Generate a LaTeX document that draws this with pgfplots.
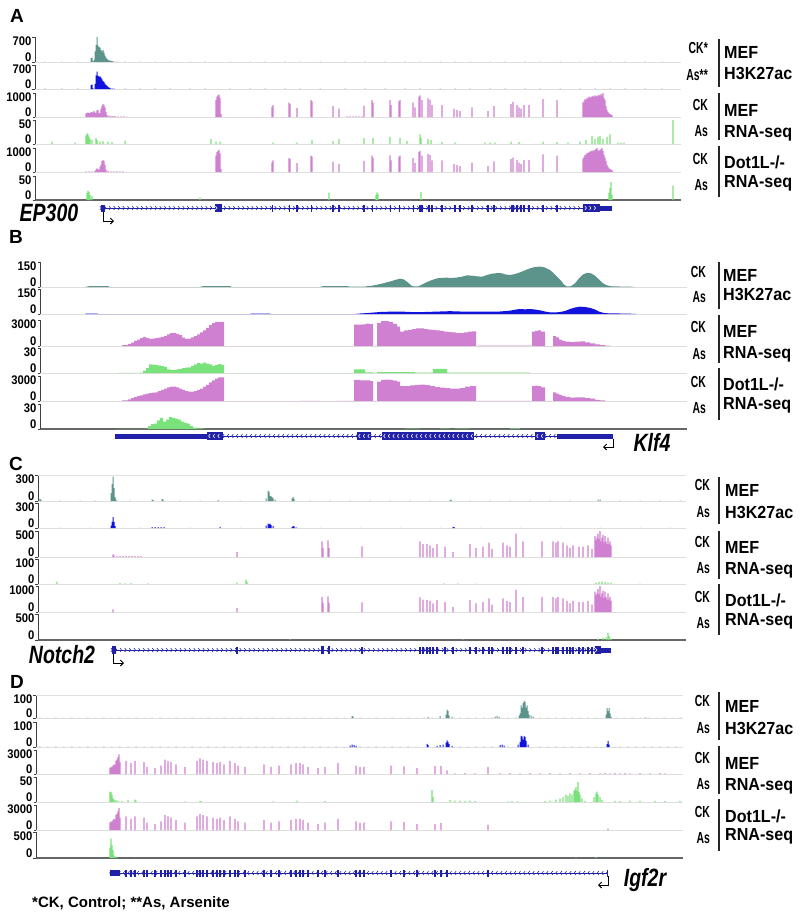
\documentclass[border=0pt]{standalone}
\usepackage{pgfplots}
\pgfplotsset{compat=1.18}
\usepackage{fontspec}
\setmainfont{Liberation Sans}
\newfontfamily\nar{Liberation Sans}[FakeStretch=0.65]
\newfontfamily\labf{Liberation Sans}[FakeStretch=0.92]
\newfontfamily\tickf{Liberation Sans}[FakeStretch=0.9]
\newfontfamily\genef{Liberation Sans}[FakeStretch=0.78]
\usetikzlibrary{decorations.markings, arrows.meta}

\definecolor{tealc}{RGB}{92,148,140}
\definecolor{bluec}{RGB}{18,18,222}
\definecolor{pinkc}{RGB}{208,128,208}
\definecolor{greenc}{RGB}{122,226,122}
\definecolor{genec}{RGB}{32,32,168}

\tikzset{
 tlab/.style={inner sep=0pt, xshift=-3.5pt, font=\tickf\bfseries\fontsize{12.5}{12.5}\selectfont},
 chevR/.style={postaction={decorate, decoration={markings, mark=between positions 0 and 1 step 4.6pt with {\draw[#1, line width=0.55pt] (-1.1pt,1.9pt) -- (0.4pt,0pt) -- (-1.1pt,-1.9pt);}}}},
 chevL/.style={postaction={decorate, decoration={markings, mark=between positions 0 and 1 step 4.6pt with {\draw[#1, line width=0.55pt] (1.1pt,1.9pt) -- (-0.4pt,0pt) -- (1.1pt,-1.9pt);}}}},
 barrow/.style={black, line width=0.9pt, -{Straight Barb[length=3pt, width=6pt]}},
}

\pgfplotsset{
 trkbase/.style={scale only axis, anchor=north west, axis lines*=left,
   axis line style={-},
   x axis line style={-, draw=black!13, line width=0.7pt},
   y axis line style={-, draw=black!75, line width=0.6pt},
   xtick=\empty, ymin=0, tick align=outside, major tick length=2.5pt,
   ytick style={draw=black!75, line width=0.6pt}, yticklabels={}},
 trk/.style n args={5}{trkbase, at={(#1pt,-#2pt)}, height=#3pt, ymax=#4, ytick={0,#4},
   extra description/.code={
     \node[tlab, anchor=north east] at (rel axis cs:0,1) {#5};
     \node[tlab, anchor=south east] at (rel axis cs:0,0) {0};}},
 lastt/.style={x axis line style={-, draw=black!60, line width=1.1pt}},
 pA/.style={xmin=35, xmax=681, width=646pt},
 pB/.style={xmin=40, xmax=687, width=647pt},
 pC/.style={xmin=38, xmax=686, width=648pt},
 pD/.style={xmin=36, xmax=683, width=647pt},
 gene/.style n args={2}{scale only axis, anchor=west, at={(#1pt,-#2pt)}, height=16pt, ymin=-8, ymax=8, hide axis, clip=false},
 bT/.style={ybar, bar width=1, fill=tealc, draw=none},
 bTn/.style={ybar, bar width=1, fill=tealc!55, draw=none},
 bB/.style={ybar, bar width=1, fill=bluec, draw=none},
 bBn/.style={ybar, bar width=1, fill=bluec!40, draw=none},
 bP/.style={ybar, bar width=1.2, fill=pinkc, draw=none},
 bG/.style={ybar, bar width=1.2, fill=greenc, draw=none},
}

\newcommand{\ex}[3]{\fill[genec] (axis cs:#1,-#3) rectangle (axis cs:#2,#3);}
\newcommand{\te}[1]{\fill[genec] ([xshift=-0.7pt]axis cs:#1,-3.5) rectangle ([xshift=0.7pt]axis cs:#1,3.5);}
\newcommand{\vl}[2]{\draw[line width=1.4pt, black!85] (719,#1) -- (719,#2);}
\newcommand{\ck}[3]{\node[anchor=base east, inner sep=0pt, font=\nar\bfseries\fontsize{16}{16}\selectfont] at (#1,#2+5.8) {#3};}
\newcommand{\tx}[3]{\node[anchor=base west, inner sep=0pt, font=\labf\bfseries\fontsize{17.5}{17.5}\selectfont] at (#1,#2+6.3) {#3};}

\begin{document}
\begin{tikzpicture}
\useasboundingbox (0pt,0pt) rectangle (800pt,-914pt);

%================ PANEL A =================
\begin{axis}[pA, trk={35}{37}{25}{700}{700}]
\addplot[bTn] coordinates {(45,20)(62,18)(78,20)(125,20)(140,18)(155,20)(170,20)(190,18)(205,20)(230,20)(250,18)(265,20)(285,20)(300,18)(320,20)(345,20)(365,18)(385,20)(405,20)(420,18)(440,20)(455,18)(470,20)(490,18)(505,20)(525,18)(540,20)(560,18)(580,20)(595,18)(610,20)(625,18)(645,18)(662,18)};
\addplot[bT] coordinates {(91,110)(92,120)(93,20)(94,60)(95,300)(96,480)(97,700)(98,460)(99,420)(100,400)(101,330)(102,300)(103,340)(104,260)(105,180)(106,120)(107,90)(108,60)(109,45)(110,40)(111,30)(112,25)(113,20)(115,10)(117,8)};
\end{axis}

\begin{axis}[pA, trk={35}{65}{24}{700}{700}]
\addplot[bBn] coordinates {(45,16)(62,16)(78,16)(125,16)(140,16)(155,16)(170,16)(190,16)(205,16)(230,16)(250,16)(265,16)(285,16)(300,16)(320,16)(345,16)(365,16)(385,16)(405,16)(420,16)(440,16)(455,16)(470,16)(490,16)(505,16)(525,16)(540,16)(560,16)(580,16)(595,16)(610,16)(625,16)(645,16)(662,16)};
\addplot[bB] coordinates {(91,110)(92,125)(93,20)(95,150)(96,400)(97,510)(98,380)(99,360)(100,370)(101,330)(102,280)(103,230)(104,200)(105,150)(106,110)(107,90)(108,60)(109,40)(110,30)(112,20)(114,10)};
\end{axis}

\begin{axis}[pA, trk={35}{93}{24}{1000}{1000}]
\addplot[bP] coordinates {(86,150)(87,170)(88,180)(89,160)(90,170)(91,190)(92,200)(93,180)(94,250)(95,180)(96,170)(97,280)(98,300)(99,150)(100,160)(101,350)(102,450)(103,550)(104,500)(105,400)(106,200)(107,80)(109,60)(111,50)(113,40)(115,40)(118,30)(121,30)(124,30)(127,20)
(216,700)(217,850)(218,900)(219,930)(220,800)(221,120)
(272,420)(273,500)(289,600)(290,550)(297,380)(311,700)(312,650)(333,450)(339,350)
(347,30)(350,30)(353,30)(356,30)(359,30)(362,30)
(364,470)(372,700)(373,600)(390,700)(391,500)(399,650)(400,700)
(413,600)(415,400)(419,850)(420,900)(422,700)(428,780)(430,720)(432,500)(442,500)(454,350)(457,300)(460,250)(472,400)(488,250)(494,450)(511,550)(513,620)(517,500)(519,400)(521,350)(524,500)(529,500)(543,750)(557,700)
(583,600)(584,650)(585,750)(586,700)(587,800)(588,780)(589,850)(590,820)(591,820)(592,860)(593,880)(594,830)(595,900)(596,870)(597,850)(598,900)(599,920)(600,880)(601,950)(602,900)(603,1000)(604,800)(605,700)(606,450)(607,300)(608,200)(609,150)(610,120)(611,100)(612,80)};
\end{axis}

\begin{axis}[pA, trk={35}{120}{24}{50}{50}]
\addplot[bG] coordinates {(52,5)(75,3)(86,18)(87,22)(88,20)(89,15)(90,10)(92,8)(96,12)(97,8)(100,5)(103,6)(108,5)(112,4)(125,7)(211,10)(216,5)(220,5)(273,3)(297,3)(312,8)(333,6)(339,10)(364,12)(373,12)(390,15)(400,12)(407,6)(420,20)(421,12)(428,10)(431,8)(442,4)(455,3)(485,3)(490,3)(495,3)(511,5)(519,4)(543,5)(557,4)(568,3)(580,5)(586,8)(592,17)(595,10)(598,15)(600,17)(603,10)(607,15)(610,20)(618,3)(621,3)(624,3)(673,50)};
\end{axis}

\begin{axis}[pA, trk={35}{148}{24}{1000}{1000}]
\addplot[bP] coordinates {(86,30)(89,30)(92,30)(95,40)(96,100)(97,150)(98,120)(99,80)(100,200)(101,300)(102,450)(103,500)(104,450)(105,300)(106,100)(108,40)(111,30)(114,30)(117,30)(120,30)(123,25)
(216,680)(217,830)(218,880)(219,920)(220,780)(221,120)
(272,400)(273,480)(289,580)(290,540)(297,370)(311,680)(312,640)(333,430)(339,340)(364,460)(372,680)(373,580)(390,690)(391,480)(399,640)(400,680)
(413,580)(415,380)(419,830)(420,880)(422,680)(428,760)(430,700)(432,480)(442,480)(454,340)(457,300)(460,240)(472,390)(488,240)(494,440)(511,540)(513,600)(517,490)(519,390)(521,340)(524,490)(529,490)(543,730)(557,680)
(583,550)(584,620)(585,700)(586,720)(587,780)(588,800)(589,820)(590,850)(591,880)(592,860)(593,900)(594,880)(595,920)(596,950)(597,1000)(598,900)(599,880)(600,920)(601,940)(602,1000)(603,880)(604,700)(605,600)(606,450)(607,300)(608,220)(609,150)(610,120)(611,100)(612,80)};
\end{axis}

\begin{axis}[pA, trk={35}{176}{24}{50}{50}, lastt]
\addplot[bG] coordinates {(87,15)(88,19)(89,17)(90,10)(92,8)(200,5)(329,15)(376,10)(377,16)(378,12)(421,17)(609,15)(610,25)(611,38)(612,10)(673,30)};
\end{axis}

\begin{axis}[pA, gene={35}{208}]
\draw[genec, line width=0.9pt, chevR=genec] (axis cs:101,0) -- (axis cs:612,0);
\ex{101}{105}{3.5}\ex{214.5}{221.5}{3.8}
\te{272.5}\te{289.5}\te{297}\te{311.5}\te{333}\te{339}\te{364}\te{372.5}\te{390.5}\te{399.5}\te{413.5}
\ex{419}{422.5}{3.5}\ex{428}{430}{3.5}\ex{431}{433}{3.5}
\te{442}\te{455}\te{460}\te{472}\te{488}\te{494}\ex{511}{513.5}{3.5}\te{517}\te{521}\te{524}\te{529}\te{543}\te{557}
\ex{583}{600}{4}\ex{600}{612}{2.5}
\path[chevR=white] (axis cs:216.5,0) -- (axis cs:220,0);
\path[chevR=white] (axis cs:586,0) -- (axis cs:599,0);
\draw[barrow] (axis cs:103,-4) -- (axis cs:103,-13) -- (axis cs:114,-13);
\end{axis}

%================ PANEL B =================
\begin{axis}[pB, trk={40}{262}{25}{150}{150}]
\addplot[fill=tealc, draw=none] coordinates {(85,0)(90,6)(108,6)(110,0)(200,0)(203,6)(230,6)(232,0)(320,0)(323,6)(347,6)(350,2)(357,2)(365,3)(372,8)(378,15)(383,22)(390,33)(395,42)(400,50)(404,45)(408,27)(412,5)(418,3)(422,15)(427,30)(432,42)(437,52)(442,55)(447,56)(452,54)(457,57)(462,62)(467,70)(472,68)(477,64)(482,62)(487,72)(492,80)(497,83)(501,84)(505,76)(510,72)(515,78)(520,88)(525,100)(530,112)(535,120)(540,123)(545,117)(550,102)(555,75)(560,45)(564,15)(567,3)(571,5)(575,22)(579,52)(583,75)(587,85)(591,82)(595,68)(599,45)(603,22)(607,10)(612,4)(620,3)(630,2)(635,0)} \closedcycle;
\end{axis}

\begin{axis}[pB, trk={40}{289}{25}{150}{150}]
\addplot[fill=bluec, draw=none] coordinates {(85,0)(86,3)(97,3)(98,0)(250,0)(251,2)(270,2)(271,0)(355,0)(360,3)(370,7)(380,12)(390,14)(400,15)(410,12)(420,11)(430,13)(440,15)(450,17)(460,15)(470,14)(480,14)(490,15)(500,15)(510,20)(515,26)(520,30)(525,28)(530,30)(535,27)(540,22)(545,15)(550,10)(555,9)(560,12)(565,18)(570,30)(575,39)(580,44)(585,42)(590,37)(595,27)(600,12)(605,5)(610,4)(620,3)(635,1)(636,0)} \closedcycle;
\end{axis}

\begin{axis}[pB, trk={40}{320}{26}{3000}{3000}]
\addplot[fill=pinkc, draw=none, const plot] coordinates {(122,90)(125,90)(128,240)(131,390)(134,600)(137,750)(140,900)(143,1050)(146,900)(149,810)(152,840)(155,900)(158,960)(161,1050)(164,1140)(167,1350)(170,1500)(173,1500)(176,1410)(179,1260)(182,960)(185,810)(188,840)(191,990)(194,1140)(197,1350)(200,1560)(203,1800)(206,2100)(209,2400)(212,2640)(215,2790)(218,2790)(221,2790)(224,0)
(354,2460)(358,2460)(362,2490)(366,2580)(369,2520)(373,0)
(377,2640)(381,2880)(385,2880)(389,2760)(393,2550)(397,2250)(400,1650)(404,1800)(408,1860)(412,1950)(416,2040)(420,2040)(424,1950)(428,1890)(432,1860)(436,1800)(440,1740)(444,1650)(448,1590)(452,1560)(456,1500)(460,1500)(464,1560)(468,1650)(472,1680)(476,0)
(478,30)(531,0)
(532,1650)(535,1740)(538,1800)(541,1650)(545,0)
(553,1140)(556,990)(559,750)(562,600)(565,510)(570,450)(575,510)(580,540)(585,420)(590,300)(595,180)(600,90)(605,30)(610,0)} \closedcycle;
\end{axis}

\begin{axis}[pB, trk={40}{348}{25}{30}{30}]
\addplot[fill=greenc, draw=none, const plot] coordinates {(118,0.3)(140,0.6)(143,3)(146,6)(149,10.5)(152,10)(155,9.6)(158,9)(161,8.4)(164,7.5)(167,4.5)(170,3.9)(173,3.9)(176,4.5)(179,5.1)(182,6)(185,6.6)(188,6.9)(191,8.4)(194,10.5)(197,12)(200,11.4)(203,12.6)(206,11.4)(209,10.5)(212,8.4)(215,9.9)(218,10.8)(221,9.9)(224,0)
(354,4.5)(362,4.5)(365,0.9)(373,0)
(377,1)(400,1.2)(415,0.6)(433,5.1)(447,0.4)(530,0)} \closedcycle;
\end{axis}

\begin{axis}[pB, trk={40}{376}{25}{3000}{3000}]
\addplot[fill=pinkc, draw=none, const plot] coordinates {(122,90)(125,90)(128,210)(131,360)(134,510)(137,600)(140,690)(143,810)(146,900)(149,960)(152,1020)(155,1050)(158,1200)(161,1350)(164,1500)(167,1650)(170,1740)(173,1740)(176,1650)(179,1500)(182,1350)(185,1200)(188,1140)(191,1140)(194,1200)(197,1350)(200,1500)(203,1740)(206,1950)(209,2250)(212,2490)(215,2700)(218,2850)(221,2850)(224,0)
(300,30)(320,0)(337,30)(353,0)
(354,2550)(360,2490)(365,2490)(370,2400)(373,0)
(377,2340)(381,2550)(385,2580)(389,2550)(393,2460)(397,2340)(400,1800)(405,1800)(410,1890)(415,1950)(420,1980)(425,1920)(430,1800)(435,1680)(440,1620)(445,1560)(450,1500)(455,1500)(460,1560)(465,1740)(470,1800)(476,0)
(478,30)(531,0)
(532,1800)(535,1860)(538,1800)(541,1650)(545,0)
(553,1050)(556,900)(559,750)(562,600)(565,510)(570,420)(575,450)(580,450)(585,360)(590,300)(595,150)(600,90)(605,0)} \closedcycle;
\end{axis}

\begin{axis}[pB, trk={40}{404}{25}{30}{30}, lastt]
\addplot[fill=greenc, draw=none, const plot] coordinates {(115,0.3)(145,0.6)(148,3.6)(151,6)(154,6.6)(157,10.5)(160,13.5)(163,9)(166,11.4)(169,14.4)(172,13.5)(175,12.6)(178,11.4)(181,9)(184,7.5)(187,6.6)(190,3.6)(193,1.8)(197,0.9)(203,0.3)(206,0)
(405,0.6)(420,0)(440,0.6)(450,0)(455,0.6)(470,0)(510,0.9)(520,0)} \closedcycle;
\end{axis}

\begin{axis}[pB, gene={40}{436}]
\draw[genec, line width=0.9pt, chevL=genec] (axis cs:223,0) -- (axis cs:557,0);
\ex{115}{207}{2.5}\ex{207}{223}{4.3}\ex{357}{371}{4.3}\ex{382}{474}{4.3}\ex{535}{545}{4.3}\ex{557}{613}{2.5}
\path[chevL=white] (axis cs:209,0) -- (axis cs:222,0);
\path[chevL=white] (axis cs:359,0) -- (axis cs:370,0);
\path[chevL=white] (axis cs:384,0) -- (axis cs:473,0);
\path[chevL=white] (axis cs:537,0) -- (axis cs:544,0);
\draw[barrow] (axis cs:613,-2.5) -- (axis cs:613,-11) -- (axis cs:603,-11);
\end{axis}

%================ PANEL C =================
\begin{axis}[pC, trk={38}{475}{26}{300}{300}]
\draw[black!12, line width=0.7pt] (rel axis cs:0,1) -- (rel axis cs:1,1);
\addplot[bTn] coordinates {(60,6)(80,6)(95,6)(130,6)(180,6)(200,6)(240,6)(310,6)(330,6)(350,6)(370,6)(390,6)(410,6)(430,6)(470,6)(490,6)(510,6)(530,6)(550,6)(570,6)(620,6)(640,6)(660,6)(680,6)};
\addplot[bT] coordinates {(40,24)(41,15)(111,90)(112,195)(113,280)(114,150)(115,45)(116,15)(152,15)(153,12)(162,24)(163,15)(218,10)(266,30)(268,120)(269,105)(270,60)(271,54)(272,45)(273,30)(275,15)(292,30)(293,45)(294,24)(450,12)(451,15)(598,15)(600,15)};
\end{axis}

\begin{axis}[pC, trk={38}{503}{25}{300}{300}]
\addplot[bBn] coordinates {(60,4)(90,4)(140,4)(190,4)(240,4)(320,4)(360,4)(400,4)(440,4)(480,4)(520,4)(560,4)(600,4)(640,4)(670,4)};
\addplot[bB] coordinates {(111,30)(112,75)(113,130)(114,75)(115,24)(152,12)(155,12)(158,12)(161,12)(164,12)(220,15)(266,30)(268,54)(269,45)(270,54)(271,36)(273,24)(292,15)(293,24)(294,21)(296,9)(453,15)(454,12)};
\end{axis}

\begin{axis}[pC, trk={38}{531}{26}{500}{500}]
\addplot[bP] coordinates {(113,50)(114,30)(117,15)(120,15)(123,15)(126,15)(129,15)(132,15)(135,15)(138,15)(141,15)(237,100)(322,300)(323,175)(328,320)(329,175)(362,205)
(420,300)(423,250)(427,250)(430,225)(433,175)(437,250)(445,200)(453,100)(470,250)(476,175)(483,200)(489,275)(492,150)(503,275)(507,225)(510,200)(516,450)(523,300)(542,300)(553,300)(556,275)(558,300)(563,275)(567,225)(570,175)(573,225)(579,200)(583,200)(588,225)(592,150)
(595,400)(596,325)(597,375)(598,450)(599,350)(600,500)(601,300)(602,375)(603,425)(604,275)(605,400)(606,300)(607,250)(608,375)(609,250)(610,300)(611,225)};
\end{axis}

\begin{axis}[pC, trk={38}{559}{25}{100}{100}]
\addplot[bG] coordinates {(57,10)(120,4)(125,3)(131,4)(148,3)(237,6)(246,18)(247,10)(444,3)(458,3)(476,2)(596,6)(599,8)(602,10)(605,8)(608,6)(611,5)(640,2)};
\end{axis}

\begin{axis}[pC, trk={38}{586}{26}{1000}{1000}]
\addplot[bP] coordinates {(113,100)(237,150)(322,580)(323,350)(328,600)(329,350)(362,370)
(420,560)(423,480)(427,470)(430,430)(433,330)(437,470)(445,380)(453,190)(470,470)(476,330)(483,380)(489,520)(492,280)(503,520)(507,430)(510,380)(516,850)(523,570)(542,570)(553,570)(556,520)(558,570)(563,520)(567,430)(570,330)(573,430)(579,380)(583,380)(588,430)(592,280)
(595,780)(596,640)(597,720)(598,880)(599,680)(600,1000)(601,580)(602,720)(603,820)(604,540)(605,780)(606,580)(607,480)(608,720)(609,480)(610,580)(611,430)};
\end{axis}

\begin{axis}[pC, trk={38}{614}{26}{500}{500}, lastt]
\addplot[bG] coordinates {(290,10)(463,10)(598,25)(603,40)(606,50)(608,135)(609,75)(611,25)};
\end{axis}

\begin{axis}[pC, gene={38}{650}]
\draw[genec, line width=0.9pt, chevR=genec] (axis cs:112,0) -- (axis cs:611,0);
\ex{112}{115.5}{4}
\te{237}\ex{321}{323.5}{3.8}\ex{327.5}{330}{3.8}\te{362}
\te{420}\te{423}\te{427}\te{430}\te{433}\te{437}\te{445}\te{453}\te{470}\te{476}\te{483}\te{489}\te{492}\te{503}\te{507}\te{510}\te{516}\te{523}\te{542}\te{553}\te{556}\te{558}\te{563}\te{567}\te{570}\te{573}\te{579}\te{583}\te{588}\te{592}
\ex{595}{600.5}{4}\ex{600}{611}{2.5}
\path[chevR=white] (axis cs:596.5,0) -- (axis cs:599.5,0);
\draw[barrow] (axis cs:113,-4) -- (axis cs:113,-13) -- (axis cs:124,-13);
\end{axis}

%================ PANEL D =================
\begin{axis}[pD, trk={36}{695}{23}{100}{100}]
\draw[black!12, line width=0.7pt] (rel axis cs:0,1) -- (rel axis cs:1,1);
\addplot[bTn] coordinates {(40,3)(48,2)(56,3)(64,2)(72,3)(80,2)(88,3)(96,2)(104,3)(112,2)(120,3)(128,2)(136,3)(144,2)(152,3)(160,3)(168,2)(176,3)(184,2)(192,3)(200,2)(208,3)(216,2)(224,3)(232,2)(240,3)(248,2)(256,3)(264,2)(272,3)(280,2)(288,3)(296,2)(304,3)(312,2)(320,3)(328,2)(336,3)(344,2)(360,3)(368,2)(376,3)(384,2)(392,3)(400,2)(408,3)(416,2)(424,3)(432,2)(460,3)(468,2)(476,3)(484,3)(492,3)(508,3)(516,3)(540,3)(548,2)(556,3)(564,2)(572,3)(580,2)(588,3)(596,2)(616,3)(624,2)(632,3)(640,2)(648,3)(656,2)(664,3)(672,2)(680,3)};
\addplot[bT] coordinates {(352,8)(353,6)(428,5)(440,8)(446,15)(447,36)(448,30)(449,10)(452,5)(495,6)(497,8)(499,5)(519,10)(520,20)(521,55)(522,45)(523,65)(524,74)(525,70)(526,45)(527,55)(528,30)(529,15)(531,10)(533,6)(606,15)(607,43)(608,30)(609,43)(610,20)(611,5)(645,3)};
\end{axis}

\begin{axis}[pD, trk={36}{722}{25}{100}{100}]
\addplot[bBn] coordinates {(40,3)(48,2)(56,3)(64,2)(72,3)(80,2)(88,3)(96,2)(104,3)(112,2)(120,3)(128,2)(136,3)(144,2)(152,3)(160,3)(168,2)(176,3)(184,2)(192,3)(200,2)(208,3)(216,2)(224,3)(232,2)(240,3)(248,2)(256,3)(264,2)(272,3)(280,2)(288,3)(296,2)(304,3)(312,2)(320,3)(328,2)(336,3)(344,2)(360,3)(368,2)(376,3)(384,2)(392,3)(400,2)(408,3)(416,2)(460,3)(468,2)(476,3)(484,3)(492,3)(508,3)(540,3)(548,2)(556,3)(564,2)(572,3)(580,2)(588,3)(596,2)(620,3)(628,3)(636,3)(644,3)(652,3)(660,3)(668,3)(676,3)};
\addplot[bB] coordinates {(350,6)(352,10)(354,8)(356,5)(427,13)(428,8)(437,5)(440,8)(443,10)(446,18)(447,27)(448,20)(449,12)(452,5)(500,8)(502,10)(504,6)(518,10)(520,20)(521,45)(522,42)(523,30)(524,45)(525,40)(526,25)(528,10)(607,12)(608,25)(609,10)};
\end{axis}

\begin{axis}[pD, trk={36}{750}{24}{3000}{3000}]
\addplot[bP] coordinates {(110,750)(111,900)(112,840)(113,1050)(114,1200)(115,1140)(116,1650)(117,1800)(118,2100)(119,2460)(120,1500)
(126,1650)(131,1350)(135,1650)(144,1500)(147,900)(155,750)(161,1050)(165,1800)(168,1650)(171,1500)(176,1200)(185,900)(197,1650)(200,1950)(203,1800)(207,1650)(213,1500)(217,1350)(220,1500)(224,1200)(230,1650)(235,1350)(238,1050)(245,900)(264,1200)(271,900)(279,1050)(291,1200)(296,1350)(300,1350)(303,1200)(308,900)(318,750)(325,900)(338,1350)(356,1050)(360,900)(364,900)(391,1050)(404,960)(417,750)(435,990)(441,990)(447,450)(488,900)
(455,90)(465,120)(475,90)(500,90)(510,120)(520,90)(530,120)(540,90)(550,120)(560,90)(570,120)(580,90)(590,120)(600,90)(605,120)(610,90)(615,120)(620,90)(625,120)(630,90)(640,120)(650,90)(660,120)(665,90)};
\end{axis}

\begin{axis}[pD, trk={36}{777}{25}{50}{50}]
\addplot[bG] coordinates {(110,21)(111,20)(112,15)(113,7.5)(114,5)(116,4)(118,2.5)(122,2)(128,4)(135,5)(136,3)(185,1.5)(200,2)(201,1.5)(273,1.5)(297,3)(325,2)
(432,24)(433,10)(450,4)(455,3)(460,3)(465,2.5)(470,3)(475,2)(508,1.5)(512,2)(518,1.5)(545,2)(550,3)(556,5)(560,7.5)(563,10)(566,15)(568,12.5)(570,17.5)(572,15)(574,22.5)(575,25)(576,30)(577,22.5)(578,40)(579,20)(580,15)(582,7.5)(585,2.5)(594,10)(596,17.5)(597,21)(598,15)(600,10)(602,4)(615,2.5)(620,2)(630,3)(640,2.5)(655,2.5)(665,2)(680,2.5)};
\end{axis}

\begin{axis}[pD, trk={36}{805}{25}{3000}{3000}]
\addplot[bP] coordinates {(110,900)(111,1050)(112,990)(113,1200)(114,1350)(115,1260)(116,1800)(117,1950)(118,2250)(119,2640)(120,1500)
(126,1650)(131,1350)(135,1650)(144,1500)(147,900)(155,750)(161,1050)(165,1800)(168,1650)(171,1500)(176,1200)(185,900)(197,1650)(200,1950)(203,1800)(207,1650)(213,1500)(217,1350)(220,1500)(224,1200)(230,1650)(235,1350)(238,1050)(245,900)(264,1200)(271,900)(279,1050)(291,1200)(296,1350)(300,1350)(303,1200)(308,900)(318,750)(325,900)(338,1350)(356,1050)(360,900)(364,900)(391,1050)(404,960)(417,750)(435,750)(441,840)(488,660)(608,180)};
\end{axis}

\begin{axis}[pD, trk={36}{832}{26}{500}{500}, lastt]
\addplot[bG] coordinates {(110,200)(111,375)(112,250)(113,150)(114,50)(115,25)(117,15)(135,5)(576,10)(596,20)};
\end{axis}

\begin{axis}[pD, gene={36}{873}]
\draw[genec, line width=0.9pt, chevL=genec] (axis cs:110,0) -- (axis cs:608,0);
\ex{110}{120}{3}
\te{126}\te{131}\te{135}\te{144}\te{147}\te{155}\te{161}\te{165}\te{168}\te{171}\te{176}\te{185}\te{197}\te{200}\te{203}\te{207}\te{213}\te{217}\te{220}\te{224}\te{230}\te{235}\te{238}\te{245}\te{264}\te{271}\te{279}\te{291}\te{296}\te{300}\te{303}\te{308}\te{318}\te{325}\te{338}\te{356}\te{360}\te{364}\te{391}\te{404}\te{417}\te{435}\te{441}\te{447}\te{488}\te{607.5}
\draw[barrow] (axis cs:608,-3) -- (axis cs:608,-12) -- (axis cs:598,-12);
\end{axis}

%================ ANNOTATIONS =================
\begin{scope}[x=1pt, y=-1pt]
\node[anchor=base, inner sep=0pt, font=\bfseries\fontsize{19}{19}\selectfont] at (17,22) {A};
\node[anchor=base, inner sep=0pt, font=\bfseries\fontsize{19}{19}\selectfont] at (16,243) {B};
\node[anchor=base, inner sep=0pt, font=\bfseries\fontsize{19}{19}\selectfont] at (16,470) {C};
\node[anchor=base, inner sep=0pt, font=\bfseries\fontsize{19}{19}\selectfont] at (17,688) {D};

\node[anchor=base, inner sep=0pt, font=\genef\bfseries\itshape\fontsize{25}{25}\selectfont] at (49,221) {EP300};
\node[anchor=base, inner sep=0pt, font=\genef\bfseries\itshape\fontsize{25}{25}\selectfont] at (652,451) {Klf4};
\node[anchor=base, inner sep=0pt, font=\genef\bfseries\itshape\fontsize{25}{25}\selectfont] at (62,663) {Notch2};
\node[anchor=base, inner sep=0pt, font=\genef\bfseries\itshape\fontsize{25}{25}\selectfont] at (645,886) {Igf2r};

\node[anchor=base west, inner sep=0pt, font=\bfseries\fontsize{15}{15}\selectfont] at (32,907) {*CK, Control; **As, Arsenite};

% Panel A labels
\vl{39}{87}\ck{708}{48}{CK*}\ck{708}{75}{As**}\tx{724}{52}{MEF}\tx{724}{73}{H3K27ac}
\vl{93}{140}\ck{708}{105}{CK}\ck{708}{131}{As}\tx{724}{110}{MEF}\tx{724}{131}{RNA-seq}
\vl{146}{197}\ck{708}{159}{CK}\ck{708}{185}{As}\tx{724}{162}{Dot1L-/-}\tx{724}{181}{RNA-seq}
% Panel B labels
\vl{262}{309}\ck{706}{272}{CK}\ck{706}{297}{As}\tx{723}{275}{MEF}\tx{723}{294}{H3K27ac}
\vl{315}{363}\ck{706}{327}{CK}\ck{706}{354}{As}\tx{723}{331}{MEF}\tx{723}{352}{RNA-seq}
\vl{368}{420}\ck{706}{382}{CK}\ck{706}{408}{As}\tx{723}{384}{Dot1L-/-}\tx{723}{403}{RNA-seq}
% Panel C labels
\vl{477}{524}\ck{710}{485}{CK}\ck{710}{512}{As}\tx{725}{490}{MEF}\tx{725}{512}{H3K27ac}
\vl{531}{579}\ck{710}{542}{CK}\ck{710}{568}{As}\tx{725}{547}{MEF}\tx{725}{568}{RNA-seq}
\vl{584}{635}\ck{710}{597}{CK}\ck{710}{623}{As}\tx{725}{600}{Dot1L-/-}\tx{725}{619}{RNA-seq}
% Panel D labels
\vl{692}{740}\ck{710}{701}{CK}\ck{710}{728}{As}\tx{725}{706}{MEF}\tx{725}{728}{H3K27ac}
\vl{746}{794}\ck{710}{758}{CK}\ck{710}{784}{As}\tx{725}{763}{MEF}\tx{725}{784}{RNA-seq}
\vl{799}{851}\ck{710}{812}{CK}\ck{710}{838}{As}\tx{725}{816}{Dot1L-/-}\tx{725}{834}{RNA-seq}
\end{scope}
\end{tikzpicture}
\end{document}
